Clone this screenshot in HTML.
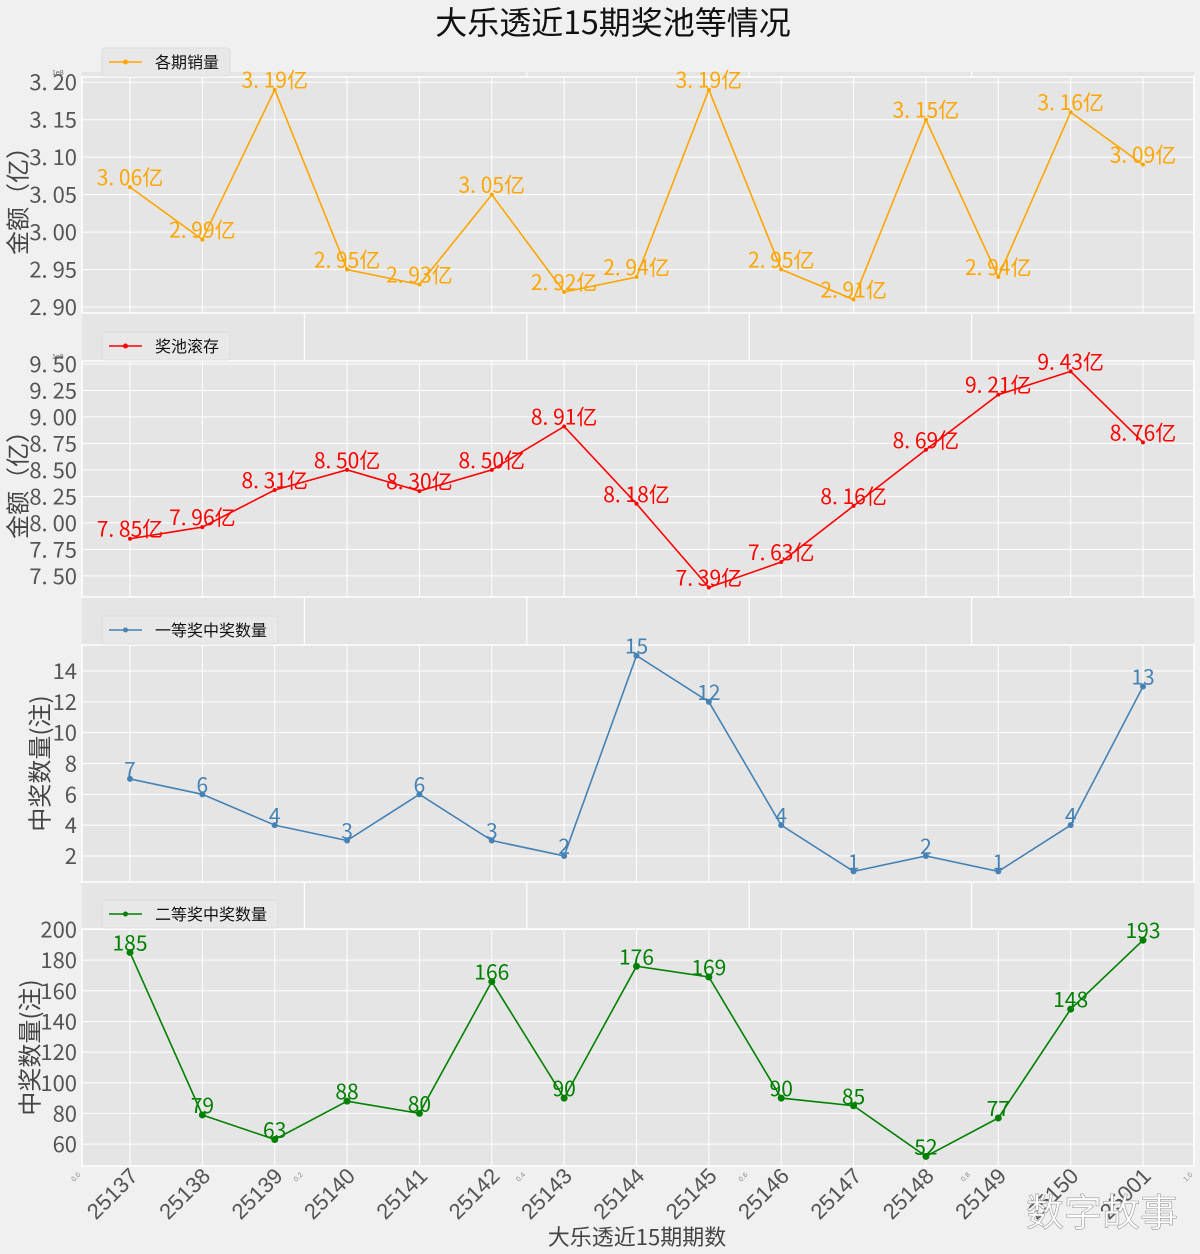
<!DOCTYPE html>
<html><head><meta charset="utf-8">
<style>
html,body{margin:0;padding:0;background:#f0f0f0;}
svg{display:block;font-family:"Liberation Sans","Noto Sans CJK SC",sans-serif;}
</style></head>
<body>
<svg id="chart" width="1200" height="1254" viewBox="0 0 1200 1254" xmlns="http://www.w3.org/2000/svg">
<rect x="0" y="0" width="1200" height="1254" fill="#f0f0f0"/>
<text x="613" y="34" text-anchor="middle" font-size="32" fill="#111" font-family="Noto Sans CJK SC, sans-serif">大乐透近15期奖池等情况</text>
<g id="plots"></g>
<text x="637" y="1245" text-anchor="middle" font-size="22" fill="#444" font-family="Noto Sans CJK SC, sans-serif">大乐透近15期期数</text>
<text x="1102" y="1226" text-anchor="middle" font-size="38" fill="#fff" stroke="#999" stroke-width="0.6" font-family="Noto Sans CJK SC, sans-serif">数字故事</text>
</svg>
<script>
const periods=["25137","25138","25139","25140","25141","25142","25143","25144","25145","25146","25147","25148","25149","25150","25001"];
const sales=[3.06,2.99,3.19,2.95,2.93,3.05,2.92,2.94,3.19,2.95,2.91,3.15,2.94,3.16,3.09];
const pool=[7.85,7.96,8.31,8.50,8.30,8.50,8.91,8.18,7.39,7.63,8.16,8.69,9.21,9.43,8.76];
const first=[7,6,4,3,6,3,2,15,12,4,1,2,1,4,13];
const second=[185,79,63,88,80,166,90,176,169,90,85,52,77,148,193];
const salesTicks=[2.90,2.95,3.00,3.05,3.10,3.15,3.20];
const poolTicks=[7.50,7.75,8.00,8.25,8.50,8.75,9.00,9.25,9.50];
const firstTicks=[2,4,6,8,10,12,14];
const secondTicks=[60,80,100,120,140,160,180,200];

const NS="http://www.w3.org/2000/svg";
const g=document.getElementById('plots');
function el(t,a,p){const e=document.createElementNS(NS,t);for(const k in a)e.setAttribute(k,a[k]);(p||g).appendChild(e);return e;}
const L=82,R=1194;
const x0=130,x1=1143;
function xs(i){return x0+(x1-x0)*i/(periods.length-1);}

const bg=el('rect',{x:L,y:72,width:R-L,height:1166-72,fill:'#e5e5e5'});


for(let k=1;k<5;k++){const xx=L+(R-L)*k/5;
 const ln=el('line',{x1:xx,x2:xx,y1:72,y2:1166,stroke:'#fff','stroke-width':1.2});
 
 }
for(let k=0;k<=5;k++){const t=el('text',{x:L-8+(R-L)*k/5,y:1182,'font-size':7,fill:'#888',transform:`rotate(-45 ${L-8+(R-L)*k/5} 1182)`});t.textContent=(k/5).toFixed(1);
 
 }

const panels=[
 {name:'sales',data:sales,ticks:salesTicks,top:77,bot:313,min:2.892,max:3.207,color:'#FFA500',fmt:v=>v.toFixed(2).replace('.','. ')+'亿',dec:2,legend:'各期销量',ylabel:'金额（亿）',ylx:20,mr:2,lfs:21},
 {name:'pool',data:pool,ticks:poolTicks,top:361,bot:597,min:7.30,max:9.528,color:'#FF0000',fmt:v=>v.toFixed(2).replace('.','. ')+'亿',dec:2,legend:'奖池滚存',ylabel:'金额（亿）',ylx:20,mr:2,lfs:21},
 {name:'first-prize',data:first,ticks:firstTicks,top:645,bot:882,min:0.31,max:15.69,color:'#4682B4',fmt:v=>String(v),dec:0,legend:'一等奖中奖数量',ylabel:'中奖数量(注)',ylx:42,mr:3,lfs:21},
 {name:'second-prize',data:second,ticks:secondTicks,top:929,bot:1166,min:45.7,max:200.3,color:'#008000',fmt:v=>String(v),dec:0,legend:'二等奖中奖数量',ylabel:'中奖数量(注)',ylx:32,mr:3.5,lfs:21}
];
panels.forEach(p=>{
 const ys=v=>p.bot-(v-p.min)/(p.max-p.min)*(p.bot-p.top);
 const bg2=el('rect',{x:L,y:p.top,width:R-L,height:p.bot-p.top,fill:'#e5e5e5',stroke:'#fff','stroke-width':1.5});
 
 
 periods.forEach((c,i)=>{const ln=el('line',{x1:xs(i),x2:xs(i),y1:p.top,y2:p.bot,stroke:'#fff','stroke-width':1});
  
  });
 p.ticks.forEach(t=>{const y=ys(t);
  const ln=el('line',{x1:L,x2:R,y1:y,y2:y,stroke:'#fff','stroke-width':1});
  
  
  const tx=el('text',{x:L-5,y:y+8,'text-anchor':'end','font-size':22,fill:'#555','font-family':'Noto Sans CJK SC, sans-serif'});
  tx.textContent=p.dec?t.toFixed(2).replace('.','. '):String(t);
  
  });
 if(p.dec){const s=el('text',{x:L-30,y:p.top-2,'font-size':7,fill:'#666'});s.textContent='1e8';
  
  }
 const yl=el('text',{x:p.ylx,y:(p.top+p.bot)/2,'text-anchor':'middle','font-size':24,fill:'#444','font-family':'Noto Sans CJK SC, sans-serif',transform:`rotate(-90 ${p.ylx} ${(p.top+p.bot)/2})`,'dominant-baseline':'middle'});
 yl.textContent=p.ylabel;
 
 
 const pts=p.data.map((v,i)=>xs(i)+','+ys(v)).join(' ');
 const pl=el('polyline',{points:pts,fill:'none',stroke:p.color,'stroke-width':1.6});
 
 
 p.data.forEach((v,i)=>{
  const c=el('circle',{cx:xs(i),cy:ys(v),r:p.mr,fill:p.color});
  
  
  const t=el('text',{x:xs(i),y:ys(v)-2,'text-anchor':'middle','font-size':p.lfs,fill:p.color,'font-family':'Noto Sans CJK SC, sans-serif'});
  t.textContent=p.fmt(v);
  
  });
 const lg=el('rect',{x:102,y:p.top-29,width:p.legend.length*16+64,height:28,rx:3,fill:'#e8e8e8',stroke:'#ddd'});
 
 
 const ll=el('line',{x1:109,x2:142,y1:p.top-15,y2:p.top-15,stroke:p.color,'stroke-width':1.6});
 
 
 const lc=el('circle',{cx:125.5,cy:p.top-15,r:2.5,fill:p.color});
 
 
 const lt=el('text',{x:155,y:p.top-9,'font-size':16,fill:'#111','font-family':'Noto Sans CJK SC, sans-serif'});
 lt.textContent=p.legend;
 
 
});
periods.forEach((c,i)=>{const x=xs(i)-2,y=1166;
 const t=el('text',{x:x,y:y,'text-anchor':'end','font-size':22,fill:'#555',transform:`rotate(-45 ${x} ${y})`,'dominant-baseline':'hanging'});
 t.textContent=c;
 
 });
</script>
</body></html>
